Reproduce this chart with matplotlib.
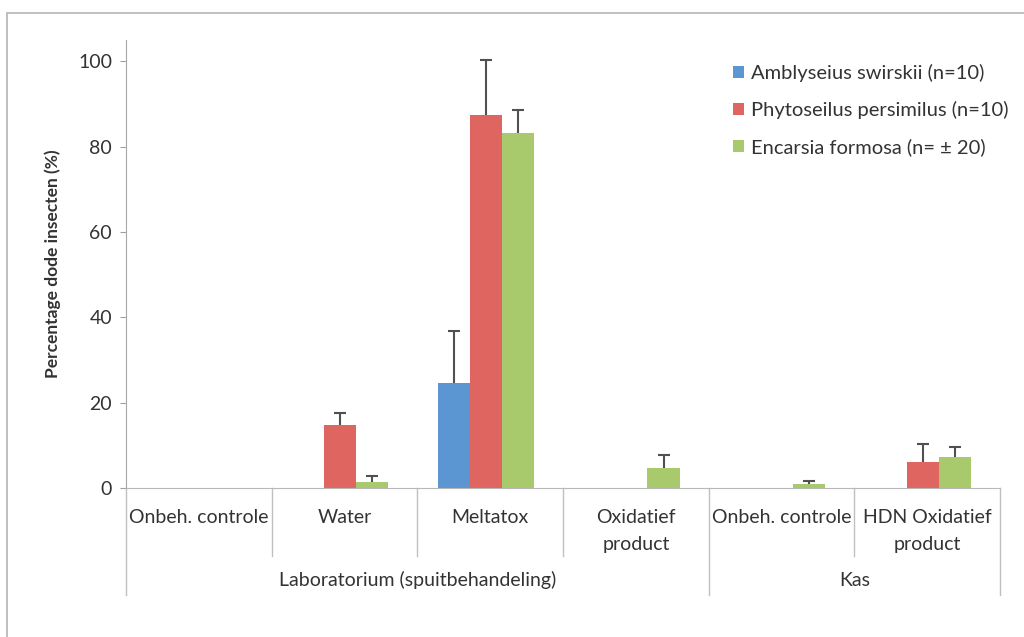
import numpy as np
import matplotlib
matplotlib.use("Agg")
import matplotlib.pyplot as plt
from matplotlib.patches import Rectangle

plt.rcParams['font.family'] = ['Lato', 'DejaVu Sans']

# categories and groups
categories = ["Onbeh. controle", "Water", "Meltatox", "Oxidatief\nproduct",
              "Onbeh. controle", "HDN Oxidatief\nproduct"]
groups = ["Laboratorium (spuitbehandeling)", "Kas"]
group_spans = [(0, 3), (4, 5)]

series_names = ["Amblyseius swirskii (n=10)", "Phytoseilus persimilus (n=10)",
                "Encarsia formosa (n= \u00b1 20)"]
swirskii = [0, 0, 24.5, 0, 0, 0]
swirskii_err = [np.nan, np.nan, 12.2, np.nan, np.nan, np.nan]
persimilus = [0, 14.8, 87.4, 0, 0, 6.0]
persimilus_err = [np.nan, 2.8, 12.8, np.nan, np.nan, 4.3]
formosa = [0, 1.5, 83.2, 4.8, 1.0, 7.2]
formosa_err = [np.nan, 1.3, 5.3, 3.0, 0.6, 2.5]

colors = ["#5b96d2", "#de6560", "#a8c96c"]
txt = "#333333"

fig = plt.figure(figsize=(10.24, 6.37), dpi=100)
ax = fig.add_axes([126 / 1024, 1 - 488 / 637, 874 / 1024, 448 / 637])

# outer chart border (only top/left visible in the reference crop)
fig.patches.append(Rectangle((7 / 1024, -0.1), 1.2, 1 - 13 / 637 + 0.1,
                             transform=fig.transFigure, fill=False,
                             edgecolor="#b5b5b5", linewidth=1.2))

x = np.arange(len(categories))
w = 0.22
shift = -0.03
data = [(swirskii, swirskii_err), (persimilus, persimilus_err), (formosa, formosa_err)]
for i, (vals, errs) in enumerate(data):
    pos = x + shift + (i - 1) * w
    ax.bar(pos, vals, width=w, color=colors[i], label=series_names[i], zorder=2)
    vals = np.array(vals, dtype=float)
    errs = np.array(errs, dtype=float)
    m = ~np.isnan(errs)
    if m.any():
        eb = ax.errorbar(pos[m], vals[m], yerr=[np.zeros(m.sum()), errs[m]],
                         fmt="none", ecolor="#505050", elinewidth=1.5,
                         capsize=4, capthick=1.5, zorder=3)
        eb[1][0].set_visible(False)

ax.set_xlim(-0.5, len(categories) - 0.5)
ax.set_ylim(0, 105)
ax.set_yticks(np.arange(0, 101, 20))
ax.tick_params(axis="y", labelsize=14, length=4, color="#a0a0a0",
               labelcolor=txt, pad=6)
ax.set_xticks([])
for s in ["top", "right"]:
    ax.spines[s].set_visible(False)
ax.spines["left"].set_color("#a8a8a8")
ax.spines["bottom"].set_color("#b8b8b8")
ax.set_ylabel("Percentage dode insecten (%)", fontsize=12.5, fontweight="bold",
              color=txt, labelpad=12)

tr = ax.get_xaxis_transform()
# category labels
for xi, lab in zip(x, categories):
    ax.text(xi, -(509 - 488) / 448, lab, transform=tr, ha="center", va="top",
            fontsize=14, color=txt, linespacing=1.7)
# dividers
inner_bottom = -(556 - 488) / 448
outer_bottom = -(595 - 488) / 448
for b in [0.5, 1.5, 2.5, 4.5]:
    ax.plot([b, b], [0, inner_bottom], transform=tr, color="#c0c0c0",
            lw=1, clip_on=False)
for b in [-0.5, 3.5, 5.5]:
    ax.plot([b, b], [0, outer_bottom], transform=tr, color="#c0c0c0",
            lw=1, clip_on=False)
# group labels
for g, (a, b) in zip(groups, group_spans):
    ax.text((a + b) / 2, -(580 - 488) / 448, g, transform=tr, ha="center",
            va="center", fontsize=14, color=txt)

leg = ax.legend(loc="upper left", bbox_to_anchor=(0.685, 0.965), frameon=False,
                fontsize=14.5, handlelength=0.55, handleheight=0.55,
                handletextpad=0.35, labelspacing=0.95, borderaxespad=0)
for t in leg.get_texts():
    t.set_color(txt)

fig.savefig("out.png", dpi=100)
